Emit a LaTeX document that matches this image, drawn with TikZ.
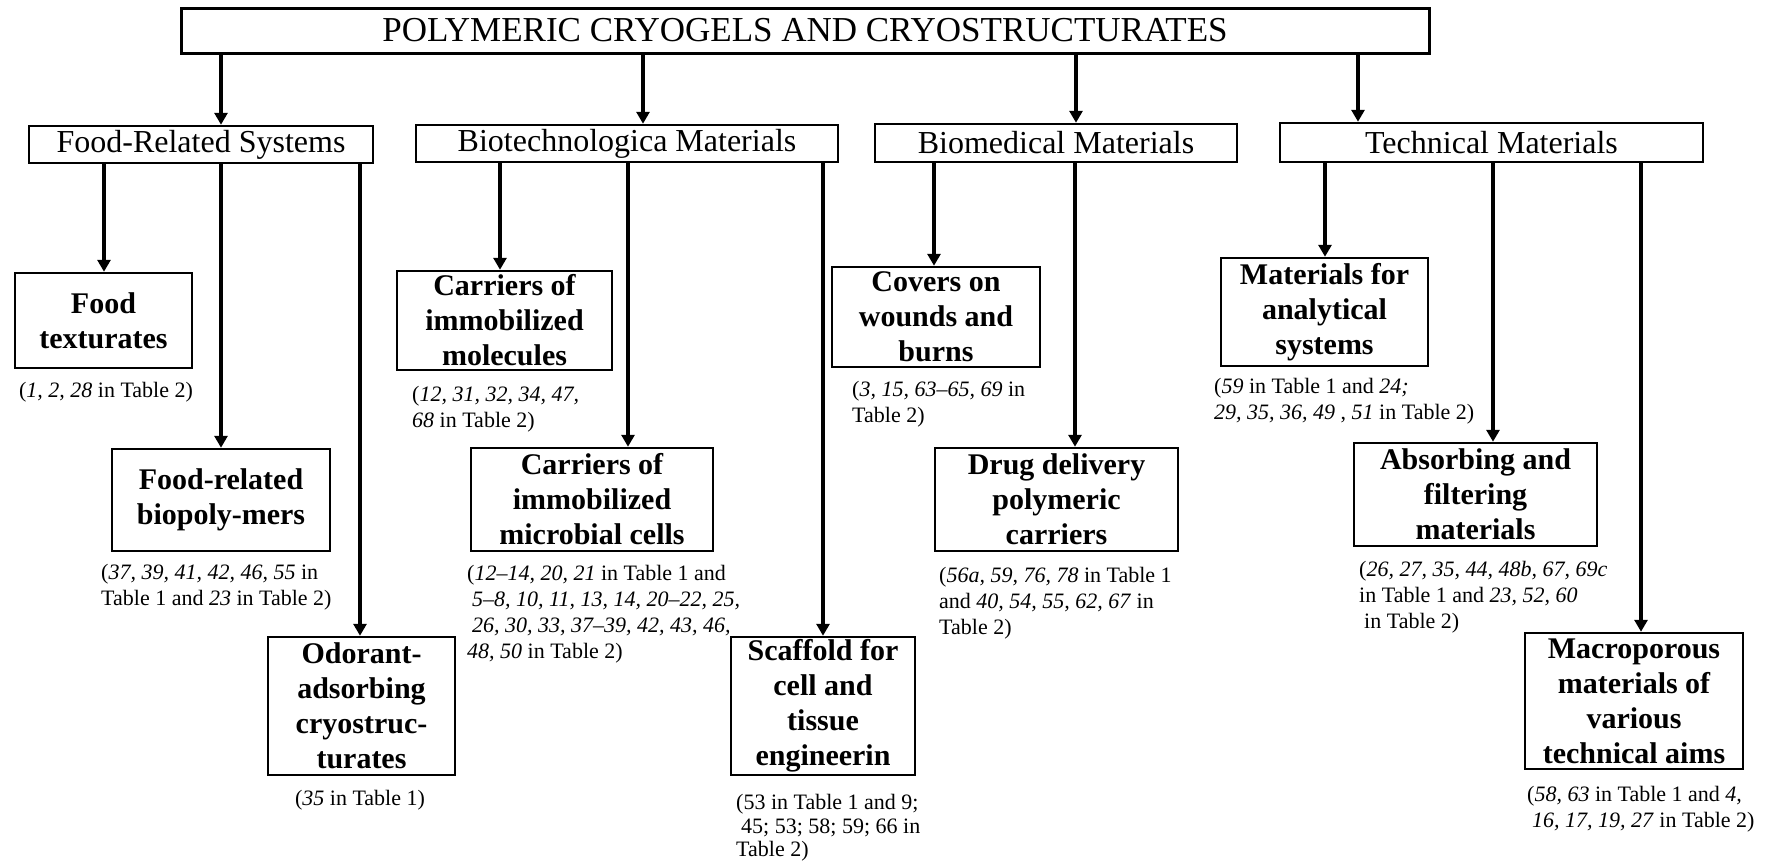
\documentclass[tikz,border=0pt]{standalone}
\usepackage{fontspec}
\setmainfont{Liberation Serif}
\usetikzlibrary{arrows.meta,calc}
\begin{document}
\begin{tikzpicture}[x=1pt,y=-1pt,
  titlebox/.style={draw, line width=3pt, inner sep=0pt, font=\fontsize{35}{40}\selectfont},
  catbox/.style={draw, line width=2.5pt, inner sep=0pt, font=\fontsize{32}{36}\selectfont},
  leafbox/.style={draw, line width=2.5pt, inner sep=0pt, align=center, font=\fontsize{30}{35}\selectfont\bfseries},
  lab/.style={anchor=west, inner sep=0pt, align=left, font=\fontsize{22}{26}\selectfont},
  conn/.style={line width=4pt, -{Triangle[length=12pt,width=13pt]}}
]
\useasboundingbox (0,0) rectangle (1767,863);

% title
\node[titlebox, minimum width=1248pt, minimum height=45pt] (title) at (805,30.5) {POLYMERIC CRYOGELS AND CRYOSTRUCTURATES};

% categories
\node[catbox, minimum width=344pt, minimum height=37pt] (food) at (201,144.5) {Food-Related Systems};
\node[catbox, minimum width=422pt, minimum height=37pt] (biotech) at (627,143.5) {Biotechnologica Materials};
\node[catbox, minimum width=362pt, minimum height=38pt] (biomed) at (1056,143) {Biomedical Materials};
\node[catbox, minimum width=423pt, minimum height=39pt] (tech) at (1491.5,142.5) {Technical Materials};

% leaves
\node[leafbox, minimum width=177pt, minimum height=95pt] (tex) at (103.5,320.5) {Food\\texturates};
\node[leafbox, minimum width=218pt, minimum height=102pt] (bio) at (221,500) {Food-related\\biopoly-mers};
\node[leafbox, minimum width=187pt, minimum height=138pt] (odor) at (361.5,706) {Odorant-\\adsorbing\\cryostruc-\\turates};
\node[leafbox, minimum width=215pt, minimum height=99pt] (mol) at (504.5,320.5) {Carriers of\\immobilized\\molecules};
\node[leafbox, minimum width=242pt, minimum height=103pt] (micro) at (592,499.5) {Carriers of\\immobilized\\microbial cells};
\node[leafbox, minimum width=184pt, minimum height=138pt] (scaf) at (823,706) {Scaffold for\\cell and\\tissue\\engineerin};
\node[leafbox, minimum width=208pt, minimum height=100pt] (cov) at (936,317) {Covers on\\wounds and\\burns};
\node[leafbox, minimum width=243pt, minimum height=103pt] (drug) at (1056.5,499.5) {Drug delivery\\polymeric\\carriers};
\node[leafbox, minimum width=207pt, minimum height=108pt] (ana) at (1324.5,312) {Materials for\\analytical\\systems};
\node[leafbox, minimum width=243pt, minimum height=103pt] (abs) at (1475.5,494.5) {Absorbing and\\filtering\\materials};
\node[leafbox, minimum width=218pt, minimum height=136pt] (mac) at (1634,701) {Macroporous\\materials of\\various\\technical aims};

% labels
\node[lab, anchor=center] (ltex) at (106,392) {(\textit{1, 2, 28} in Table 2)};
\node[lab] (lbio) at (101,587) {(\textit{37, 39, 41, 42, 46, 55} in\\Table 1 and \textit{23} in Table 2)};
\node[lab, anchor=center] (lodor) at (360,800) {(\textit{35} in Table 1)};
\node[lab] (lmol) at (412,409) {(\textit{12, 31, 32, 34, 47,}\\\textit{68} in Table 2)};
\node[lab] (lmicro) at (467,614) {(\textit{12–14, 20, 21} in Table 1 and\\\hspace*{5pt}\textit{5–8, 10, 11, 13, 14, 20–22, 25,}\\\hspace*{5pt}\textit{26, 30, 33, 37–39, 42, 43, 46,}\\\textit{48, 50} in Table 2)};
\node[lab, font=\fontsize{22}{23.5}\selectfont] (lscaf) at (736,828) {(53 in Table 1 and 9;\\\hspace*{5pt}45; 53; 58; 59; 66 in\\Table 2)};
\node[lab] (lcov) at (852,404.5) {(\textit{3, 15, 63–65, 69} in\\Table 2)};
\node[lab] (ldrug) at (939,603) {(\textit{56a, 59, 76, 78} in Table 1\\and \textit{40, 54, 55, 62, 67} in\\Table 2)};
\node[lab] (lana) at (1214,401.5) {(\textit{59} in Table 1 and \textit{24;}\\\textit{29, 35, 36, 49} , \textit{51} in Table 2)};
\node[lab] (labs) at (1359,597) {(\textit{26, 27, 35, 44, 48b, 67, 69c}\\in Table 1 and \textit{23, 52, 60}\\\hspace*{5pt}in Table 2)};
\node[lab] (lmac) at (1527,809.5) {(\textit{58, 63} in Table 1 and \textit{4,}\\\hspace*{5pt}\textit{16, 17, 19, 27} in Table 2)};

% connector x positions
\coordinate (xa) at (221,0);
\coordinate (xb) at (643,0);
\coordinate (xc) at (1076,0);
\coordinate (xd) at (1358,0);
\coordinate (x1) at (104,0);
\coordinate (x2) at (221,0);
\coordinate (x3) at (360,0);
\coordinate (x4) at (500,0);
\coordinate (x5) at (628,0);
\coordinate (x6) at (823,0);
\coordinate (x7) at (934,0);
\coordinate (x8) at (1075,0);
\coordinate (x9) at (1325,0);
\coordinate (x10) at (1493,0);
\coordinate (x11) at (1641,0);

% connectors
\draw[conn] (title.south -| xa) -- (food.north -| xa);
\draw[conn] (title.south -| xb) -- (biotech.north -| xb);
\draw[conn] (title.south -| xc) -- (biomed.north -| xc);
\draw[conn] (title.south -| xd) -- (tech.north -| xd);

\draw[conn] (food.south -| x1) -- (tex.north -| x1);
\draw[conn] (food.south -| x2) -- (bio.north -| x2);
\draw[conn] (food.south -| x3) -- (odor.north -| x3);
\draw[conn] (biotech.south -| x4) -- (mol.north -| x4);
\draw[conn] (biotech.south -| x5) -- (micro.north -| x5);
\draw[conn] (biotech.south -| x6) -- (scaf.north -| x6);
\draw[conn] (biomed.south -| x7) -- (cov.north -| x7);
\draw[conn] (biomed.south -| x8) -- (drug.north -| x8);
\draw[conn] (tech.south -| x9) -- (ana.north -| x9);
\draw[conn] (tech.south -| x10) -- (abs.north -| x10);
\draw[conn] (tech.south -| x11) -- (mac.north -| x11);
\end{tikzpicture}
\end{document}
